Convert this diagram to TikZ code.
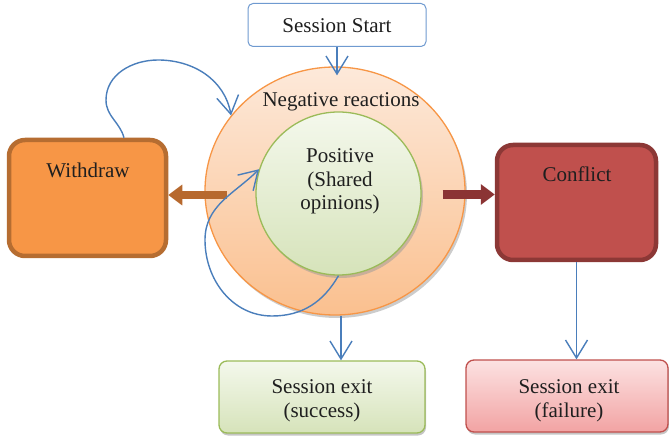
\documentclass[tikz,border=0pt]{standalone}
\usepackage{fontspec}
\setmainfont{Liberation Serif}
\usetikzlibrary{arrows.meta,shapes.geometric,shadows}
\definecolor{linkblue}{HTML}{4A7EBB}
\definecolor{startline}{HTML}{6F9AD0}
\definecolor{negline}{HTML}{F79646}
\definecolor{negtop}{HTML}{FDE9DA}
\definecolor{negbottom}{HTML}{FAC08F}
\definecolor{posline}{HTML}{9BBB59}
\definecolor{postop}{HTML}{F4F8EC}
\definecolor{posbottom}{HTML}{D6E3BA}
\definecolor{withdrawfill}{HTML}{F79646}
\definecolor{withdrawline}{HTML}{B66D31}
\definecolor{conflictfill}{HTML}{C0504D}
\definecolor{conflictline}{HTML}{8C3836}
\definecolor{failtop}{HTML}{FCE2E2}
\definecolor{failbottom}{HTML}{F2A3A3}
\definecolor{brownarrow}{HTML}{B7692E}
\definecolor{redarrow}{HTML}{8B3434}
\begin{document}
\begin{tikzpicture}[x=1pt,y=-1pt,
  txt/.style={font=\fontsize{21}{23.5}\selectfont, align=center, inner sep=0pt, text=black!88},
  flow/.style={draw=linkblue, line width=1.4pt, -{Straight Barb[length=18pt,width=22pt]}},
  blockarrow/.style={draw=#1, line width=8.5pt, -{Triangle[length=14pt,width=20pt]}},
  statebox/.style={rectangle, rounded corners=16pt, line width=4.5pt, inner sep=0pt},
  exitbox/.style={rectangle, rounded corners=8pt, line width=1.3pt, inner sep=0pt,
    minimum height=72pt, drop shadow={shadow xshift=1pt, shadow yshift=-2.5pt, fill=black!45}},
  ring/.style={ellipse, inner sep=0pt, line width=1.3pt,
    drop shadow={shadow xshift=2pt, shadow yshift=-3pt, fill=black!40}}
]
\useasboundingbox (0,0) rectangle (669,438);

% the two reaction rings
\node[ring, draw=negline, top color=negtop, bottom color=negbottom,
  minimum width=260pt, minimum height=248pt] (neg) at (335,191) {};
\node[ring, draw=posline, top color=postop, bottom color=posbottom,
  minimum width=165pt, minimum height=163pt] (pos) at (338.5,193.5) {};
\node[txt, anchor=base] (negText) at (341,107) {Negative reactions};
\node[txt, anchor=base] (posText) at (340,210) {Positive\\(Shared\\opinions)};

% boxes
\node[rectangle, rounded corners=5pt, draw=startline, line width=1pt, fill=white,
  minimum width=178pt, minimum height=43pt] (start) at (337,25) {};
\node[txt, anchor=base] (startText) at (337,33) {Session Start};
\node[statebox, draw=withdrawline, fill=withdrawfill,
  minimum width=157pt, minimum height=116pt] (withdraw) at (87.5,198) {};
\node[txt, anchor=base] (withdrawText) at (88,178) {Withdraw};
\node[statebox, draw=conflictline, fill=conflictfill,
  minimum width=159pt, minimum height=115pt] (conflict) at (576.5,202.5) {};
\node[txt, anchor=base] (conflictText) at (577,182) {Conflict};
\node[exitbox, draw=posline, top color=postop, bottom color=posbottom,
  minimum width=206pt] (success) at (322,397) {};
\node[txt, anchor=base] (successText) at (322,417) {Session exit\\(success)};
\node[exitbox, draw=conflictfill, top color=failtop, bottom color=failbottom,
  minimum width=202pt] (failure) at (567,396) {};
\node[txt, anchor=base] (failureText) at (569,417) {Session exit\\(failure)};

% thick arrows out of the ring
\draw[blockarrow=brownarrow] ([xshift=23pt,yshift=-4pt]neg.west) -- ([yshift=-4pt]neg.west -| withdraw.east);
\draw[blockarrow=redarrow] ([xshift=-23pt,yshift=-3.5pt]neg.east) -- ([yshift=-3.5pt]neg.east -| conflict.west);

% thin connectors
\draw[flow, shorten >=-9pt] (start.south) -- (start.south |- neg.north);
\draw[flow] ([xshift=6pt]neg.south) -- ([xshift=6pt]neg.south |- success.north);
\draw[flow] (conflict.south) -- (conflict.south |- failure.north);

% loops
\coordinate (wleft) at (106,100);
\coordinate (wtop) at (158,60);
\draw[flow] ([xshift=36.5pt]withdraw.north) to[out=105,in=270] (wleft)
  to[out=90,in=180] (wtop) to[out=0,in=100] (neg.144);
\coordinate (pbot) at (272,316);
\coordinate (pleft) at (205,240);
\draw[flow] (pos.south) to[out=240,in=0] (pbot) to[out=180,in=270] (pleft)
  to[out=90,in=225] (pos.163);
\end{tikzpicture}
\end{document}
